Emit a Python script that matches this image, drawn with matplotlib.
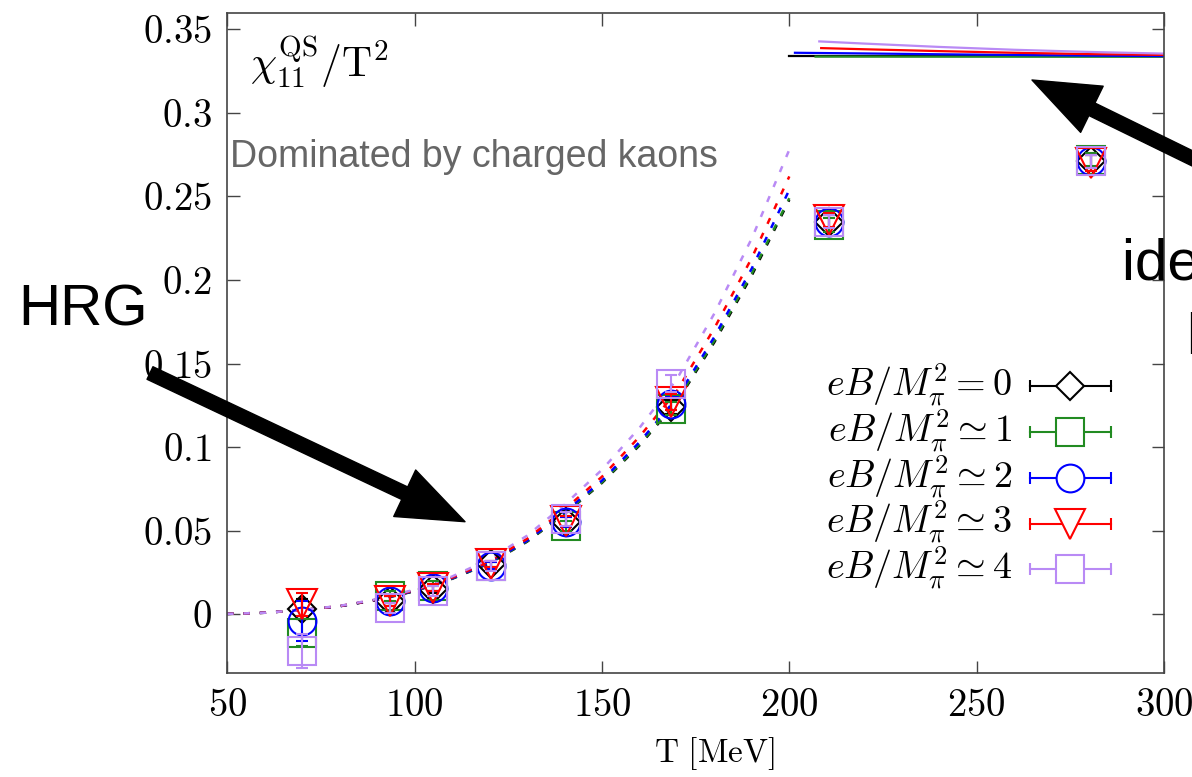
import numpy as np
import matplotlib.pyplot as plt

plt.rcParams['mathtext.fontset'] = 'cm'
plt.rcParams['font.family'] = ['Liberation Sans', 'DejaVu Sans']

# lattice data: chi_11^QS / T^2 vs temperature for several eB values
T = [70.0, 93.5, 105.0, 120.5, 140.5, 168.5, 210.5, 280.5]
chi_b0 = [0.003, 0.008, 0.015, 0.030, 0.055, 0.124, 0.235, 0.271]
chi_b1 = [-0.011, 0.011, 0.017, 0.029, 0.053, 0.123, 0.233, 0.272]
chi_b2 = [-0.004, 0.008, 0.016, 0.029, 0.055, 0.126, 0.235, 0.271]
chi_b3 = [0.006, 0.008, 0.016, 0.030, 0.056, 0.127, 0.236, 0.270]
chi_b4 = [-0.022, 0.004, 0.014, 0.029, 0.057, 0.138, 0.235, 0.271]
err_b0 = [0.006, 0.003, 0.002, 0.002, 0.003, 0.004, 0.004, 0.004]
err_b1 = [0.008, 0.003, 0.003, 0.002, 0.003, 0.004, 0.004, 0.004]
err_b2 = [0.012, 0.003, 0.002, 0.002, 0.003, 0.004, 0.004, 0.004]
err_b3 = [0.007, 0.003, 0.002, 0.002, 0.003, 0.005, 0.004, 0.005]
err_b4 = [0.010, 0.003, 0.003, 0.003, 0.004, 0.005, 0.004, 0.004]

# HRG curves
T_hrg = [50, 60, 70, 80, 90, 100, 110, 120, 130, 140, 150, 160, 170, 180, 190, 200]
hrg_b0 = [0.0002, 0.0009, 0.0025, 0.0048, 0.0086, 0.0138, 0.0212, 0.0305, 0.0434, 0.0600, 0.0786, 0.1010, 0.1270, 0.1628, 0.2028, 0.2480]
hrg_b1 = [0.0002, 0.0009, 0.0025, 0.0048, 0.0086, 0.0139, 0.0213, 0.0307, 0.0436, 0.0603, 0.0790, 0.1016, 0.1278, 0.1638, 0.2040, 0.2490]
hrg_b2 = [0.0002, 0.0009, 0.0025, 0.0048, 0.0087, 0.0140, 0.0215, 0.0310, 0.0440, 0.0610, 0.0800, 0.1030, 0.1295, 0.1660, 0.2070, 0.2540]
hrg_b3 = [0.0002, 0.0009, 0.0025, 0.0049, 0.0088, 0.0143, 0.0219, 0.0317, 0.0451, 0.0627, 0.0823, 0.1062, 0.1337, 0.1712, 0.2133, 0.2620]
hrg_b4 = [0.0002, 0.0009, 0.0026, 0.0050, 0.0091, 0.0147, 0.0226, 0.0330, 0.0470, 0.0655, 0.0865, 0.1115, 0.1408, 0.1800, 0.2250, 0.2780]

# ideal gas limits
T_id0 = [200, 300]
id_b0 = [0.3338, 0.3338]
T_id1 = [207, 300]
id_b1 = [0.3337, 0.3336]
T_id2 = [201.5, 220, 240, 260, 280, 300]
id_b2 = [0.3360, 0.3356, 0.3351, 0.3347, 0.3343, 0.3340]
T_id3 = [208.5, 220, 240, 260, 280, 300]
id_b3 = [0.3388, 0.3381, 0.3370, 0.3360, 0.3352, 0.3347]
T_id4 = [208, 220, 240, 260, 280, 300]
id_b4 = [0.3428, 0.3415, 0.3395, 0.3378, 0.3365, 0.3355]

labels = [r'$eB/M_\pi^2 = 0$', r'$eB/M_\pi^2 \simeq 1$', r'$eB/M_\pi^2 \simeq 2$',
          r'$eB/M_\pi^2 \simeq 3$', r'$eB/M_\pi^2 \simeq 4$']
colors = ['black', '#228b22', '#0000ff', '#ff0000', '#b98af5']
markers = ['D', 's', 'o', 'v', 's']
msizes = [14.5, 20, 20, 22, 20]

chis = [chi_b0, chi_b1, chi_b2, chi_b3, chi_b4]
errs = [err_b0, err_b1, err_b2, err_b3, err_b4]
hrgs = [hrg_b0, hrg_b1, hrg_b2, hrg_b3, hrg_b4]
ideals = [(T_id0, id_b0), (T_id1, id_b1), (T_id2, id_b2), (T_id3, id_b3), (T_id4, id_b4)]

fig = plt.figure(figsize=(11.92, 7.77), dpi=100)
ax = fig.add_axes([0.1907, 0.1342, 0.7858, 0.8495])

for i in range(5):
    ax.plot(T_hrg, hrgs[i], color=colors[i], lw=1.8, linestyle=(0, (2.5, 4)), zorder=2)
    ax.plot(ideals[i][0], ideals[i][1], color=colors[i], lw=1.6, zorder=2)

for i in range(5):
    ax.errorbar(T, chis[i], yerr=errs[i], fmt=markers[i], color=colors[i],
                mfc='none', mec=colors[i], ms=msizes[i], mew=1.5,
                elinewidth=1.5, capsize=4.5, capthick=1.5, zorder=3 + i)

ax.set_xlim(50, 300)
ax.set_ylim(-0.035, 0.360)
yt = [0, 0.05, 0.1, 0.15, 0.2, 0.25, 0.3, 0.35]
ax.set_yticks(yt)
ax.set_yticklabels(['$%s$' % s for s in ['0', '0.05', '0.1', '0.15', '0.2', '0.25', '0.3', '0.35']])
xt = [50, 100, 150, 200, 250, 300]
ax.set_xticks(xt)
ax.set_xticklabels(['$%d$' % v for v in xt])
ax.tick_params(direction='in', length=9, width=1.0, top=True, right=True,
               labelsize=28, pad=11, color='#444444')
for sp in ax.spines.values():
    sp.set_color('#444444')
    sp.set_linewidth(1.2)

ax.set_xlabel(r'$\mathrm{T\ [MeV]}$', fontsize=24)
ax.xaxis.set_label_coords(0.52, -0.094)
ax.xaxis.label.set_va('top')

ax.text(0.024, 0.925, r'$\chi_{11}^{\mathrm{QS}}/\mathrm{T}^2$', transform=ax.transAxes,
        fontsize=30, va='center', ha='left')
ax.text(0.003, 0.781, 'Dominated by charged kaons', transform=ax.transAxes,
        fontsize=27, color='#666666', va='center', ha='left')

# key, text on the left and the error bar symbol on the right
def ax_x(px):
    return (px - 227.3) / 936.7

def ax_y(py):
    return (672.7 - py) / 660.0

for i in range(5):
    py = 386.5 + 45.7 * i
    y = ax_y(py)
    ax.text(ax_x(1012), ax_y(py + 10), labels[i], transform=ax.transAxes,
            fontsize=27.5, ha='right', va='baseline')
    ax.plot([ax_x(1030), ax_x(1111)], [y, y], transform=ax.transAxes, color=colors[i],
            lw=1.5, clip_on=False, zorder=10)
    ax.plot([ax_x(1030), ax_x(1111)], [y, y], transform=ax.transAxes, color=colors[i],
            lw=0, marker='|', ms=9, mew=1.5, clip_on=False, zorder=10)
    ax.plot([ax_x(1070.5)], [y], transform=ax.transAxes, color=colors[i], marker=markers[i],
            ms=msizes[i], mfc='white', mec=colors[i], mew=1.5, lw=0, clip_on=False, zorder=11)

# annotations around the axes
fig.text(18 / 1192, 1 - 310 / 777, 'HRG', fontsize=42, va='center', ha='left')
fig.text(1122 / 1192, 1 - 280 / 777, 'ideal gas', fontsize=42, va='baseline', ha='left')
fig.text(1186 / 1192, 1 - 353 / 777, 'limit', fontsize=42, va='baseline', ha='left')

arrow = dict(facecolor='black', edgecolor='black', width=10, headwidth=37, headlength=48, shrink=0)
ax.annotate('', xy=(465, 777 - 521.7), xytext=(150, 777 - 373),
            xycoords='figure pixels', textcoords='figure pixels',
            arrowprops=arrow, annotation_clip=False)
ax.annotate('', xy=(1032, 777 - 80), xytext=(1300, 777 - 211),
            xycoords='figure pixels', textcoords='figure pixels',
            arrowprops=arrow, annotation_clip=False)

fig.savefig('out.png', dpi=100)
